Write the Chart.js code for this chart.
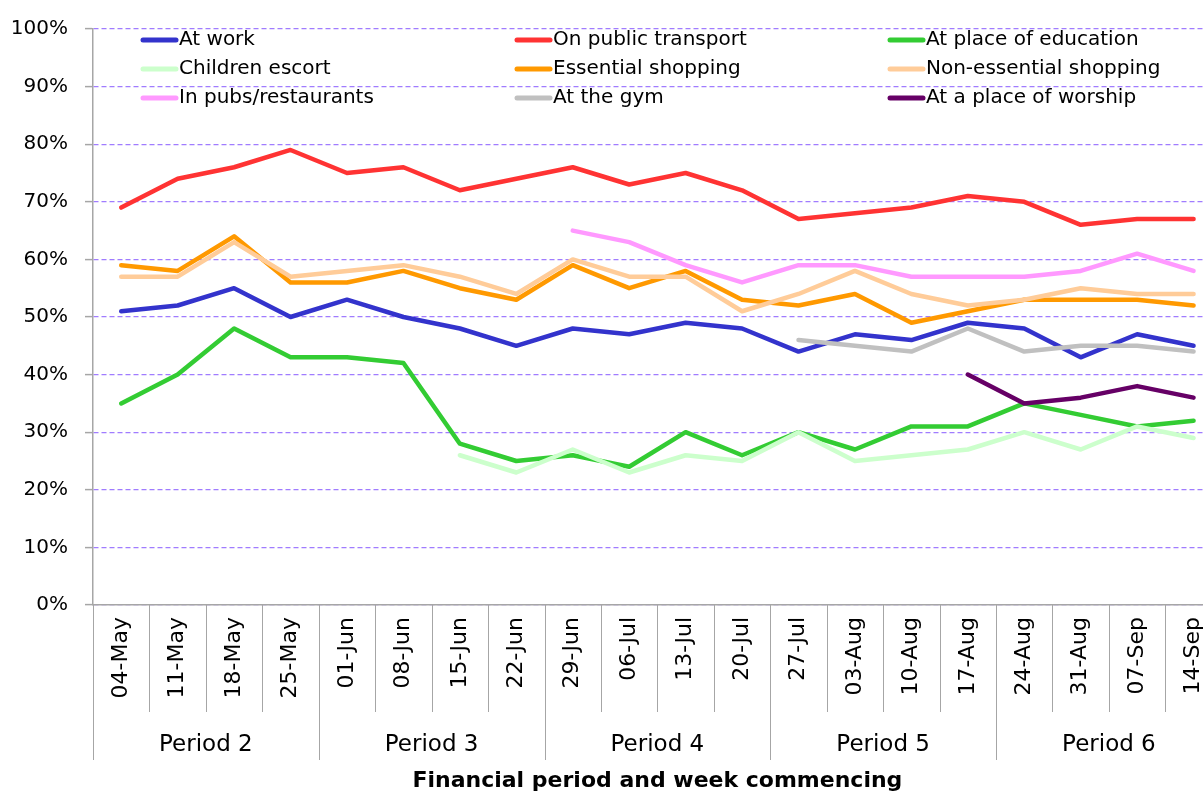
<!DOCTYPE html>
<html>
<head>
<meta charset="utf-8">
<script src="https://cdn.jsdelivr.net/npm/chart.js@4"></script>
<style>
  html, body { margin: 0; padding: 0; background: #fff; overflow: hidden; }
  canvas { display: block; }
</style>
</head>
<body>
<canvas id="chart" width="1232" height="794"></canvas>
<script>
var weeks = ['04-May', '11-May', '18-May', '25-May', '01-Jun', '08-Jun', '15-Jun', '22-Jun',
             '29-Jun', '06-Jul', '13-Jul', '20-Jul', '27-Jul', '03-Aug', '10-Aug', '17-Aug',
             '24-Aug', '31-Aug', '07-Sep', '14-Sep'];
var periods = ['Period 2', 'Period 3', 'Period 4', 'Period 5', 'Period 6'];
var yTicks = [0, 10, 20, 30, 40, 50, 60, 70, 80, 90, 100];

var atWork       = [51, 52, 55, 50, 53, 50, 48, 45, 48, 47, 49, 48, 44, 47, 46, 49, 48, 43, 47, 45];
var publicTrans  = [69, 74, 76, 79, 75, 76, 72, 74, 76, 73, 75, 72, 67, 68, 69, 71, 70, 66, 67, 67];
var education    = [35, 40, 48, 43, 43, 42, 28, 25, 26, 24, 30, 26, 30, 27, 31, 31, 35, 33, 31, 32];
var childEscort  = [null, null, null, null, null, null, 26, 23, 27, 23, 26, 25, 30, 25, 26, 27, 30, 27, 31, 29];
var essential    = [59, 58, 64, 56, 56, 58, 55, 53, 59, 55, 58, 53, 52, 54, 49, 51, 53, 53, 53, 52];
var nonEssential = [57, 57, 63, 57, 58, 59, 57, 54, 60, 57, 57, 51, 54, 58, 54, 52, 53, 55, 54, 54];
var pubs         = [null, null, null, null, null, null, null, null, 65, 63, 59, 56, 59, 59, 57, 57, 57, 58, 61, 58];
var gym          = [null, null, null, null, null, null, null, null, null, null, null, null, 46, 45, 44, 48, 44, 45, 45, 44];
var worship      = [null, null, null, null, null, null, null, null, null, null, null, null, null, null, null, 40, 35, 36, 38, 36];

var FONT = "'DejaVu Sans', sans-serif";

var series = [
  ['At work', atWork, '#3333cc'],
  ['On public transport', publicTrans, '#ff3333'],
  ['At place of education', education, '#33cc33'],
  ['Children escort', childEscort, '#ccffcc'],
  ['Essential shopping', essential, '#ff9900'],
  ['Non-essential shopping', nonEssential, '#ffcc99'],
  ['In pubs/restaurants', pubs, '#ff99ff'],
  ['At the gym', gym, '#c0c0c0'],
  ['At a place of worship', worship, '#660066']
];

var datasets = series.map(function(s, i) {
  return {
    label: s[0],
    data: s[1],
    borderColor: s[2],
    backgroundColor: s[2],
    borderWidth: 4.5,
    pointRadius: 0,
    tension: 0,
    borderCapStyle: 'round',
    borderJoinStyle: 'round',
    order: -i
  };
});

// legend in three aligned columns, plus the period row under the x axis
var extras = {
  id: 'extras',
  afterDraw: function(chart) {
    var ctx = chart.ctx;
    var area = chart.chartArea;
    var x = chart.scales.x;
    ctx.save();

    // legend
    var colX = [143, 517, 890];
    var rowY = [40, 69, 98];
    ctx.font = '20px ' + FONT;
    ctx.textBaseline = 'middle';
    ctx.textAlign = 'left';
    chart.data.datasets.forEach(function(ds, i) {
      var cx = colX[i % 3], cy = rowY[Math.floor(i / 3)];
      ctx.strokeStyle = ds.borderColor;
      ctx.lineWidth = 5;
      ctx.lineCap = 'round';
      ctx.beginPath();
      ctx.moveTo(cx, cy);
      ctx.lineTo(cx + 33, cy);
      ctx.stroke();
      ctx.fillStyle = '#000';
      ctx.fillText(ds.label, cx + 36, cy);
    });

    // separators under the axis
    var step = x.getPixelForValue(1) - x.getPixelForValue(0);
    ctx.strokeStyle = '#a6a6a6';
    ctx.lineWidth = 1;
    ctx.lineCap = 'butt';
    for (var i = 0; i <= weeks.length; i++) {
      var px = Math.round(x.getPixelForValue(0) - step / 2 + i * step) + 0.5;
      var len = (i % 4 === 0) ? 155 : 107;
      ctx.beginPath();
      ctx.moveTo(px, area.bottom);
      ctx.lineTo(px, area.bottom + len);
      ctx.stroke();
    }

    // period labels
    ctx.font = '23px ' + FONT;
    ctx.textAlign = 'center';
    ctx.fillStyle = '#000';
    periods.forEach(function(p, k) {
      var mid = (x.getPixelForValue(k * 4) + x.getPixelForValue(k * 4 + 3)) / 2;
      ctx.fillText(p, mid, area.bottom + 140);
    });
    ctx.restore();
  }
};

new Chart(document.getElementById('chart'), {
  type: 'line',
  data: { labels: weeks, datasets: datasets },
  plugins: [extras],
  options: {
    responsive: false,
    animation: false,
    layout: { padding: { top: 25, right: 1, left: 0, bottom: 0 } },
    plugins: {
      legend: { display: false },
      tooltip: { enabled: false }
    },
    scales: {
      x: {
        offset: true,
        grid: { display: false, drawTicks: false },
        border: { display: true, color: '#a6a6a6', width: 1.5 },
        ticks: {
          autoSkip: false,
          minRotation: 90,
          maxRotation: 90,
          padding: 12,
          color: '#000',
          font: { family: FONT, size: 22 }
        },
        title: {
          display: true,
          text: 'Financial period and week commencing',
          color: '#000',
          font: { family: FONT, size: 22, weight: 'bold' },
          padding: { top: 0, bottom: 0 }
        },
        afterFit: function(scale) { scale.height = 189; }
      },
      y: {
        min: 0,
        max: 100,
        afterBuildTicks: function(scale) {
          scale.ticks = yTicks.map(function(v) { return { value: v }; });
        },
        grid: {
          color: '#a07cff',
          lineWidth: 1.2,
          tickLength: 8,
          tickColor: '#a6a6a6',
          tickWidth: 1.5
        },
        border: { display: true, color: '#a6a6a6', width: 1.5, dash: [5, 3], dashOffset: 0 },
        ticks: {
          padding: 17,
          color: '#000',
          font: { family: FONT, size: 20 },
          callback: function(v) { return v + '%'; }
        },
        afterFit: function(scale) { scale.width = 93; }
      }
    }
  }
});
</script>
</body>
</html>
